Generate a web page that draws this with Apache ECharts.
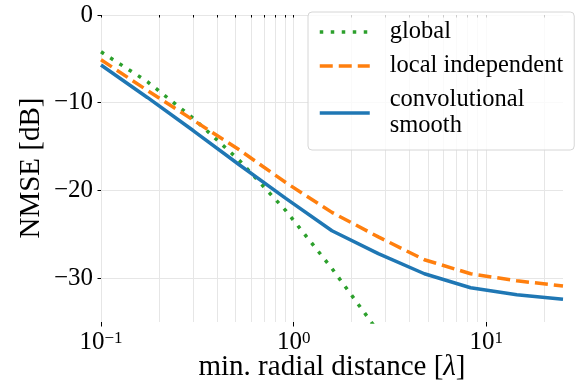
<!DOCTYPE html>
<html>
<head>
<meta charset="utf-8">
<script src="https://cdn.jsdelivr.net/npm/echarts@6/dist/echarts.min.js"></script>
<style>
html,body{margin:0;padding:0;background:#fff;}
#chart{width:582px;height:387px;}
</style>
</head>
<body>
<div id="chart"></div>
<script>
// min. radial distance [λ]
const xValues = [0.1, 0.174, 0.302, 0.524, 0.910, 1.58, 2.75, 4.77, 8.29, 14.4, 25];
// NMSE [dB]
const globalNmse = [-4.2, -7.6, -11.8, -16.6, -22.3, -28.9, -36.1, null, null, null, null];
const localNmse = [-5.1, -8.6, -12.0, -15.4, -19.1, -22.5, -25.3, -27.9, -29.5, -30.3, -30.9];
const convNmse = [-5.7, -9.4, -13.2, -17.1, -20.9, -24.6, -27.2, -29.5, -31.1, -31.9, -32.4];
const seriesNames = ['global', 'local independent', 'convolutional\nsmooth'];
const yTicks = [-30, -20, -10, 0];
const xMajorTicks = [0.1, 1, 10];
const xAllTicks = [0.1,0.2,0.3,0.4,0.5,0.6,0.7,0.8,0.9,1,2,3,4,5,6,7,8,9,10,20];
const xTitle = 'min. radial distance [';
const xTitleSym = '\u03bb';
const yTitle = 'NMSE [dB]';

const FONT = "'Liberation Serif','Times New Roman',serif";
const pairs = ys => xValues.map((x, i) => [x, ys[i]]);
const fmtExp = v => {
  const e = Math.round(Math.log10(v));
  const s = e < 0 ? '\u2212' + (-e) : '' + e;
  return '{b|10}{s|' + s + '}';
};

const chart = echarts.init(document.getElementById('chart'), null, {renderer: 'canvas'});
chart.setOption({
  animation: false,
  backgroundColor: '#fff',
  grid: {left: 101, right: 19, top: 15, bottom: 65, containLabel: false},
  legend: {
    orient: 'vertical',
    left: 308, top: 12,
    padding: [7, 11, 11, 10],
    itemGap: 8,
    itemWidth: 50, itemHeight: 14,
    backgroundColor: 'rgba(255,255,255,0.8)',
    borderColor: '#d6d6d6', borderWidth: 1, borderRadius: 4,
    itemStyle: {opacity: 0, borderWidth: 0},
    lineStyle: {width: 3.5},
    textStyle: {fontFamily: FONT, fontSize: 24.5, lineHeight: 26, color: '#000', padding: [0, 0, 0, 15]},
    data: seriesNames
  },
  graphic: [
    {type: 'text', x: 332, y: 367, z: 10,
     style: {text: '{n|' + xTitle + '}{i|' + xTitleSym + '}{n|]}', align: 'center', verticalAlign: 'middle',
       rich: {
         n: {fontFamily: FONT, fontSize: 29, fill: '#000'},
         i: {fontFamily: FONT, fontSize: 29, fontStyle: 'italic', fill: '#000'}
       }}},
    {type: 'text', x: 31, y: 168, rotation: Math.PI / 2, z: 10,
     style: {text: yTitle, align: 'center', verticalAlign: 'middle', fontFamily: FONT, fontSize: 29, fill: '#000'}}
  ],
  xAxis: [{
    type: 'log', logBase: 10, min: 0.1, max: 25,
    axisLine: {show: false},
    axisTick: {show: true, length: 2.5, customValues: xAllTicks, lineStyle: {color: '#000', width: 1}},
    axisLabel: {show: false},
    splitLine: {show: true, lineStyle: {color: '#e6e6e6', width: 1}},
    minorTick: {show: false}, minorSplitLine: {show: false}
  }, {
    type: 'log', logBase: 10, min: 0.1, max: 25, position: 'bottom',
    axisLine: {show: false},
    axisTick: {show: true, length: 4.5, customValues: xMajorTicks, lineStyle: {color: '#000', width: 1}},
    axisLabel: {
      show: true, customValues: xMajorTicks, margin: 8, formatter: fmtExp,
      rich: {
        b: {fontFamily: FONT, fontSize: 25, color: '#000', lineHeight: 25, verticalAlign: 'bottom'},
        s: {fontFamily: FONT, fontSize: 17, color: '#000', lineHeight: 17, verticalAlign: 'top'}
      }
    },
    splitLine: {show: false}
  }],
  yAxis: {
    type: 'value', min: -35, max: 0,
    axisLine: {show: false},
    axisTick: {show: true, length: 3.5, customValues: yTicks, lineStyle: {color: '#000', width: 1}},
    axisLabel: {
      customValues: yTicks, margin: 8, fontFamily: FONT, fontSize: 25, color: '#000',
      formatter: v => v === 0 ? '0' : '\u2212' + Math.abs(v)
    },
    splitLine: {show: true, lineStyle: {color: '#e6e6e6', width: 1}}
  },
  series: [
    {name: seriesNames[0], type: 'line', data: pairs(globalNmse), symbol: 'none', showSymbol: false, clip: true,
     color: '#2ca02c', lineStyle: {color: '#2ca02c', width: 3.5, type: [3.5, 7.5]}},
    {name: seriesNames[1], type: 'line', data: pairs(localNmse), symbol: 'none', showSymbol: false, clip: true,
     color: '#ff7f0e', lineStyle: {color: '#ff7f0e', width: 3.5, type: [13, 6]}},
    {name: seriesNames[2], type: 'line', data: pairs(convNmse), symbol: 'none', showSymbol: false, clip: true,
     color: '#1f77b4', lineStyle: {color: '#1f77b4', width: 3.5, type: 'solid'}}
  ]
});
</script>
</body>
</html>
